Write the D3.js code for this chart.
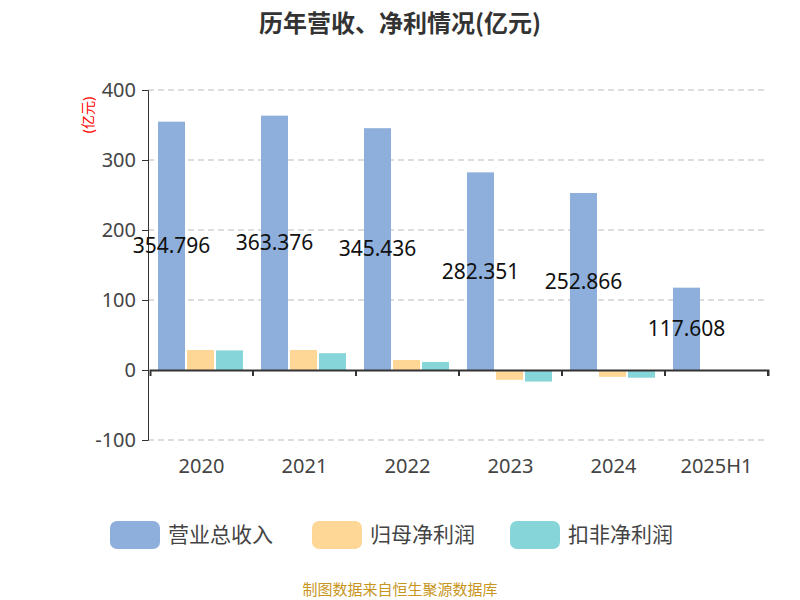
<!DOCTYPE html>
<html><head><meta charset="UTF-8">
<script src="https://cdn.jsdelivr.net/npm/d3@7/dist/d3.min.js"></script>
<style>body{margin:0;background:#fff}</style></head>
<body><svg width="800" height="600" id="mainsvg"></svg>
<script>
const years = ['2020','2021','2022','2023','2024','2025H1']
const revenue = [354.796, 363.376, 345.436, 282.351, 252.866, 117.608]
const netProfit = [28.6, 28.6, 14.2, -14.0, -9.8, -1.5]
const deductedProfit = [28.0, 24.0, 11.5, -16.5, -11.0, -1.2]
const seriesNames = ['营业总收入', '归母净利润', '扣非净利润']
const colors = ['#8eaedb', '#fed796', '#86d5d8']
const yTicks = [-100, 0, 100, 200, 300, 400]

const svg = d3.select('#mainsvg')
const font = '"Noto Sans", "Noto Sans CJK SC", sans-serif'
const x = d3.scaleBand().domain(years).range([150, 768])
const y = d3.scaleLinear().domain([-100, 400]).range([440, 90])

svg.append('text').attr('x', 400).attr('y', 32).attr('text-anchor', 'middle')
  .attr('font-family', '"Noto Sans CJK SC", sans-serif').attr('font-size', 24).attr('font-weight', 'bold').attr('fill', '#333')
  .text('历年营收、净利情况(亿元)')

// grid
svg.append('g').selectAll('line').data(yTicks.filter(d => d !== 0)).join('line')
  .attr('x1', 148).attr('x2', 768).attr('y1', d => y(d)).attr('y2', d => y(d))
  .attr('stroke', '#bbb').attr('stroke-dasharray', '6,4')

const yAxis = svg.append('g').attr('transform', 'translate(148,0)')
  .call(d3.axisLeft(y).tickValues(yTicks).tickSize(6).tickPadding(6).tickFormat(d => String(d)))
yAxis.selectAll('text').attr('font-size', 20).attr('font-family', font).attr('fill', '#444')
yAxis.selectAll('line,path').attr('stroke', '#333')

svg.append('text').attr('transform', `translate(93,115) rotate(-90)`).attr('text-anchor', 'middle')
  .attr('font-family', font).attr('font-size', 14).attr('fill', 'red').text('(亿元)')

const series = [revenue, netProfit, deductedProfit]
const inner = d3.scaleBand().domain([0, 1, 2]).range([8, x.bandwidth() - 10]).paddingInner(0.07)
series.forEach((vals, si) => {
  svg.append('g').selectAll('rect').data(vals).join('rect')
    .attr('x', (d, i) => x(years[i]) + inner(si))
    .attr('width', inner.bandwidth())
    .attr('y', d => y(Math.max(0, d)))
    .attr('height', d => Math.max(1, Math.abs(y(d) - y(0))))
    .attr('fill', colors[si])
})

const xAxis = svg.append('g').attr('transform', `translate(0,${y(0)})`)
  .call(d3.axisBottom(x).tickSize(6).tickFormat(''))
xAxis.selectAll('line,path').attr('stroke', '#333').attr('stroke-width', 2)
xAxis.selectAll('.tick line').attr('transform', `translate(${x.bandwidth() / 2},0)`)
svg.append('g').selectAll('text').data(years).join('text')
  .attr('x', d => x(d) + x.bandwidth() / 2).attr('y', 473).attr('text-anchor', 'middle')
  .attr('font-family', font).attr('font-size', 20).attr('fill', '#444').text(d => d)

svg.append('g').selectAll('text').data(revenue).join('text')
  .attr('x', (d, i) => x(years[i]) + inner(0) + inner.bandwidth() / 2)
  .attr('y', d => (y(d) + y(0)) / 2).attr('dy', '0.35em').attr('text-anchor', 'middle')
  .attr('font-family', font).attr('font-size', 21).attr('fill', '#111').text(d => d.toFixed(3))

const lx = [110, 312, 510]
seriesNames.forEach((n, i) => {
  svg.append('rect').attr('x', lx[i]).attr('y', 521).attr('width', 50).attr('height', 28).attr('rx', 7).attr('fill', colors[i])
  svg.append('text').attr('x', lx[i] + 58).attr('y', 542).attr('font-family', '"Noto Sans CJK SC", sans-serif').attr('font-size', 21)
    .attr('fill', '#444').text(n)
})

svg.append('text').attr('x', 400).attr('y', 595).attr('text-anchor', 'middle')
  .attr('font-family', '"Noto Sans CJK SC", sans-serif').attr('font-size', 15).attr('fill', '#c8961e').text('制图数据来自恒生聚源数据库')
</script></body></html>
